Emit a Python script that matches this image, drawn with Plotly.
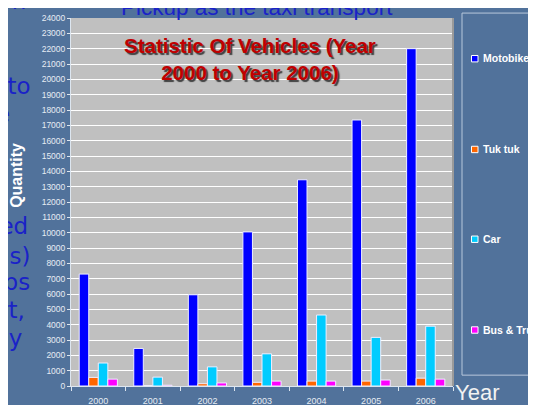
import plotly.graph_objects as go

years = ["2000", "2001", "2002", "2003", "2004", "2005", "2006"]
motobike = [7300, 2450, 5950, 10050, 13450, 17350, 22000]
tuk_tuk = [560, 30, 150, 240, 320, 320, 510]
car = [1500, 580, 1250, 2100, 4630, 3170, 3900]
bus_truck = [450, 50, 200, 320, 320, 390, 450]

series = [("Motobike", motobike, "#0000ff"),
          ("Tuk tuk", tuk_tuk, "#ff6600"),
          ("Car", car, "#00ccff"),
          ("Bus & Truck", bus_truck, "#ff00ff")]

W, H = 536, 405
# plot area as it should land on screen
L, R, T, B = 71, 453, 13, 386
SHIFT = 8  # the page shows the figure moved by 8px right and down


def px(x):
    return (x - L) / (R - L)


def py(y):
    return (B - y) / (B - T)


fig = go.Figure()
for name, vals, col in series:
    fig.add_trace(go.Bar(x=years, y=vals, name=name, showlegend=False,
                         marker=dict(color=col, line=dict(color="#eeeeff", width=1))))


def label(text, x, y, size, color, xanchor="center", yanchor="middle", **kw):
    return dict(text=text, x=px(x), y=py(y), xref="paper", yref="paper", showarrow=False,
                xanchor=xanchor, yanchor=yanchor,
                font=dict(family=kw.pop("family", "Liberation Sans"), size=size, color=color,
                          **kw.pop("font", {})), **kw)


# slide text partly hidden behind the chart
slide_blue = "#1a22c8"
left_lines = [("wn", 28, -4), ("e to", 33, 82), ("e", 12, 110), ("led", 30, 224),
              ("us)", 33, 254), ("ups", 32, 281), ("rt,", 27, 309), ("lly", 24, 337)]
ann = [label("Pickup as the taxi transport", 257, 2, 22.5, slide_blue)]
for txt, xr, yc in left_lines:
    ann.append(label(txt, xr, yc, 23, slide_blue, xanchor="right", family="DejaVu Sans"))

ann += [
    label("Statistic Of Vehicles (Year<br>2000 to Year 2006)", 250, 55, 20.5, "#c00000",
          font=dict(weight="bold", shadow="2px 2px 1px #404040")),
    label("Quantity", 17, 172, 16, "white", textangle=-90, font=dict(weight="bold")),
    label("Year", 453, 393, 22, "#f2f2f2", xanchor="left"),
]

shapes = [dict(type="rect", xref="paper", yref="paper", x0=px(462), x1=px(545),
               y0=py(375), y1=py(8), line=dict(color="#b8c8dc", width=1)),
          dict(type="line", xref="paper", yref="paper", x0=1, x1=1, y0=0, y1=1,
               line=dict(color="#9a9a9a", width=2))]

# legend drawn by hand so its entries spread down the tall box
leg_y = [54, 146, 237, 329]
for (name, vals, col), yc in zip(series, leg_y):
    shapes.append(dict(type="rect", xref="paper", yref="paper", x0=px(471.5), x1=px(478),
                       y0=py(yc + 3.5), y1=py(yc - 3), fillcolor=col,
                       line=dict(color="white", width=1)))
    ann.append(label(name, 481, yc, 10.5, "white", xanchor="left", font=dict(weight="bold")))

fig.update_layout(
    width=W, height=H,
    margin=dict(l=L - SHIFT, r=W - R + SHIFT, t=T - SHIFT, b=H - B + SHIFT),
    paper_bgcolor="#51729b",
    plot_bgcolor="#c0c0c0",
    barmode="group", bargap=0.3, bargroupgap=0,
    annotations=ann,
    shapes=shapes,
    xaxis=dict(tickson="boundaries", ticks="outside", ticklen=4, tickcolor="#dde6f0",
               showline=True, linecolor="#dde6f0", showgrid=False,
               ticklabelstandoff=6, ticklabeloverflow="allow",
               tickfont=dict(family="Liberation Sans", size=9, color="#e6ecf3")),
    yaxis=dict(range=[0, 24000], dtick=1000, tickformat="d", ticks="outside", ticklen=3,
               tickcolor="#dde6f0", showline=True, linecolor="#dde6f0",
               gridcolor="white", gridwidth=1, zeroline=False, ticklabeloverflow="allow",
               tickfont=dict(family="Liberation Sans", size=8.5, color="#e6ecf3")),
)

fig.write_html("out.html")
